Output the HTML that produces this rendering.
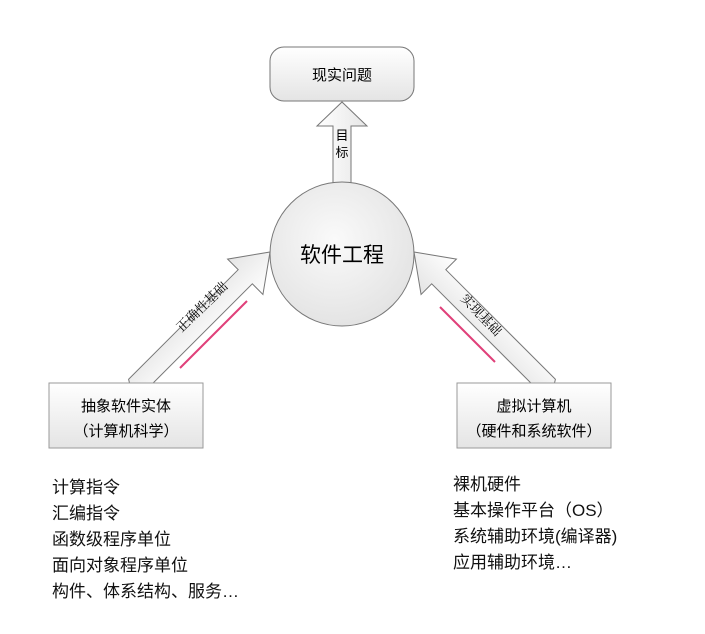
<!DOCTYPE html>
<html><head><meta charset="utf-8"><style>
body{margin:0;background:#fff;width:705px;height:634px;overflow:hidden;font-family:"Liberation Sans","Noto Sans CJK SC",sans-serif}
.t{position:absolute;font-size:17px;color:#111;line-height:26px;white-space:nowrap}
</style></head><body>
<svg width="705" height="634" style="position:absolute;left:0;top:0" font-family="Liberation Serif, Noto Serif CJK SC, serif">
<defs>
<linearGradient id="g" x1="0" y1="0" x2="0" y2="1"><stop offset="0" stop-color="#fff"/><stop offset="1" stop-color="#e4e4e4"/></linearGradient>
<linearGradient id="ga" x1="0" y1="0" x2="1" y2="0"><stop offset="0" stop-color="#fff"/><stop offset="1" stop-color="#e6e6e6"/></linearGradient>
<radialGradient id="gc" cx="0.45" cy="0.4" r="0.65"><stop offset="0" stop-color="#fafafa"/><stop offset="1" stop-color="#e2e2e2"/></radialGradient>
</defs>
<rect x="270" y="47" width="144" height="54" rx="14" fill="url(#g)" stroke="#777"/>
<text x="342" y="80" font-size="15" text-anchor="middle" font-family="Liberation Sans, Noto Sans CJK SC, sans-serif">现实问题</text>
<polygon points="333,183 333,126 317,126 342,102 367,126 351,126 351,183" fill="url(#ga)" stroke="#777"/>
<text x="342" y="140" font-size="13" text-anchor="middle" font-family="Liberation Sans, Noto Sans CJK SC, sans-serif">目</text>
<text x="342" y="157" font-size="13" text-anchor="middle" font-family="Liberation Sans, Noto Sans CJK SC, sans-serif">标</text>
<g transform="translate(270,252) rotate(135)">
<polygon points="0,0 35,-25 35,-10 190,-10 196,0 190,10 35,10 35,25" fill="url(#g)" stroke="#777"/>
</g>
<g transform="translate(414,252) rotate(45)">
<polygon points="0,0 35,-25 35,-10 190,-10 196,0 190,10 35,10 35,25" fill="url(#g)" stroke="#777"/>
</g>
<text transform="translate(205,310) rotate(-44)" font-size="13" text-anchor="middle">正确性基础</text>
<text transform="translate(478,318) rotate(46)" font-size="13" text-anchor="middle">实现基础</text>
<line x1="180" y1="368" x2="247" y2="301" stroke="#e0407a" stroke-width="2"/>
<line x1="440" y1="307" x2="495" y2="362" stroke="#e0407a" stroke-width="2"/>
<circle cx="342" cy="254" r="72" fill="url(#gc)" stroke="#777"/>
<text x="342" y="262" font-size="21" text-anchor="middle" font-family="Liberation Sans, Noto Sans CJK SC, sans-serif">软件工程</text>
<rect x="49" y="383" width="154" height="65" fill="url(#g)" stroke="#999"/>
<rect x="457" y="383" width="154" height="65" fill="url(#g)" stroke="#999"/>
<g font-size="15" text-anchor="middle" font-family="Liberation Sans, Noto Sans CJK SC, sans-serif">
<text x="126" y="411">抽象软件实体</text>
<text x="126" y="436">（计算机科学）</text>
<text x="534" y="411">虚拟计算机</text>
<text x="534" y="436">（硬件和系统软件）</text>
</g>
</svg>
<div class="t" style="left:52px;top:475px">计算指令<br>汇编指令<br>函数级程序单位<br>面向对象程序单位<br>构件、体系结构、服务…</div>
<div class="t" style="left:453px;top:472px">裸机硬件<br>基本操作平台（OS）<br>系统辅助环境(编译器)<br>应用辅助环境…</div>
</body></html>
